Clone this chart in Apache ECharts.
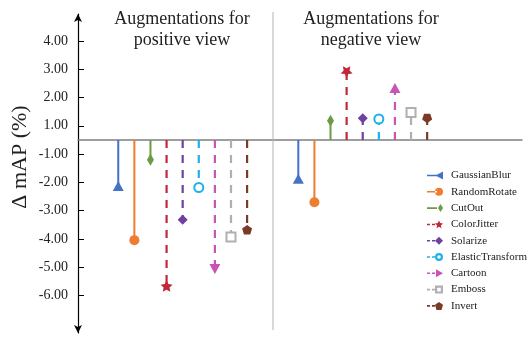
<!DOCTYPE html>
<html>
<head>
<meta charset="utf-8">
<script src="https://cdn.jsdelivr.net/npm/echarts@6/dist/echarts.min.js"></script>
<style>html,body{margin:0;padding:0;background:#fff;}#c{width:531px;height:337px;}</style>
</head>
<body>
<div id="c"></div>
<script>
// ---- data ----
const categories = ['GaussianBlur','RandomRotate','CutOut','ColorJitter','Solarize','ElasticTransform','Cartoon','Emboss','Invert'];
const positiveView = [-2.13, -4.04, -1.20, -5.66, -3.32, -2.18, -5.06, -3.93, -3.67];
const negativeView = [-1.87, -2.70, 1.18, 2.90, 1.27, 1.24, 2.34, 1.47, 1.26];
const yTickLabels = [4, 3, 2, 1, -1, -2, -3, -4, -5, -6];
const groupTitles = ['Augmentations for\npositive view', 'Augmentations for\nnegative view'];
const yAxisTitle = 'Δ mAP (%)';

// ---- styles ----
const FONT = 'Liberation Serif';
const colors = ['#4472C4','#ED7D31','#6A9C45','#C3283A','#7040A0','#1CB2EA','#C655B6','#B0B0B4','#7A3B26'];
const dashed = [false,false,false,true,true,true,true,true,true];
const star = 'path://M0,-10 L2.9,-4 L9.5,-3.1 L4.7,1.5 L5.9,8.1 L0,5 L-5.9,8.1 L-4.7,1.5 L-9.5,-3.1 L-2.9,-4Z';
const pentagon = 'path://M0,-10 L9.5,-3.1 L5.9,8.1 L-5.9,8.1 L-9.5,-3.1Z';
const narrowDiamond = 'path://M0,-10 L5,0 L0,10 L-5,0Z';
const symbols = ['triangle','circle',narrowDiamond,star,'diamond','emptyCircle','triangle','emptyRect',pentagon];
const symbolSizes = [[11,10],10,[7,12],[12,11.5],[10,10],9,[11,10],9,[10,9.5]];
const hollow = [false,false,false,false,false,true,false,true,false];
// rotation at negative end / positive end
const rotNeg = [0,0,0,0,0,0,180,0,0];
const rotPos = [180,0,0,180,0,0,0,0,180];
const groupOffset = [0, 11.18];

// legend icons: line (solid or dashed) with the marker at the right end, in a 16x8 box
const circ = (cx, cy, r, rev) => rev
  ? `M${cx - r},${cy} A${r},${r} 0 1,1 ${cx + r},${cy} A${r},${r} 0 1,1 ${cx - r},${cy}Z`
  : `M${cx - r},${cy} A${r},${r} 0 1,0 ${cx + r},${cy} A${r},${r} 0 1,0 ${cx - r},${cy}Z`;
const legendMarks = [
  'M8.5,4 L16,0 L16,8Z',
  circ(12, 4, 4, false),
  'M13.5,0 L16,4 L13.5,8 L11,4Z',
  'M12,0 L13.2,2.6 L16,2.9 L13.9,4.9 L14.5,7.8 L12,6.3 L9.5,7.8 L10.1,4.9 L8,2.9 L10.8,2.6Z',
  'M12,0 L16,4 L12,8 L8,4Z',
  circ(12, 4, 4, false) + ' ' + circ(12, 4, 1.8, true),
  'M9,0 L16,4 L9,8Z',
  'M8,0 L16,0 L16,8 L8,8Z M10.2,2.2 L10.2,5.8 L13.8,5.8 L13.8,2.2Z',
  'M12,0 L16,2.9 L14.5,8 L9.5,8 L8,2.9Z'
];
const legendIcons = legendMarks.map((m, i) => {
  const line = dashed[i] ? 'M0,3.2 L3,3.2 L3,4.8 L0,4.8Z M5,3.2 L8,3.2 L8,4.8 L5,4.8Z' : 'M0,3.2 L10,3.2 L10,4.8 L0,4.8Z';
  return 'path://' + line + ' ' + m;
});

// broken-scale mapping: the axis has no 0.00 label, 1.00 and -1.00 sit half a step from zero
function toAxis(v){ return v >= 1 ? v - 0.5 : (v <= -1 ? v + 0.5 : v * 0.5); }
const tickValues = yTickLabels.map(toAxis);

const series = categories.map((name, i) => {
  const data = [];
  [positiveView[i], negativeView[i]].forEach((v, g) => {
    const x = i + groupOffset[g];
    if (g > 0) data.push('-');
    data.push({ value: [x, 0], symbol: 'none' });
    data.push({ value: [x, toAxis(v)], symbolRotate: v < 0 ? rotNeg[i] : rotPos[i] });
  });
  return {
    name, type: 'line', data,
    connectNulls: false,
    symbol: symbols[i], symbolSize: symbolSizes[i], symbolKeepAspect: false,
    showAllSymbol: true,
    lineStyle: { color: colors[i], width: dashed[i] ? 2.2 : 2, type: dashed[i] ? [8, 7] : 'solid' },
    itemStyle: { color: colors[i], borderColor: colors[i], borderWidth: hollow[i] ? 2.5 : 0 },
    emphasis: { disabled: true },
    z: 3
  };
});

const chart = echarts.init(document.getElementById('c'), null, { renderer: 'canvas' });
chart.setOption({
  animation: false,
  backgroundColor: '#fff',
  grid: { left: 78, right: 9, top: 14, bottom: 4 },
  xAxis: {
    type: 'value', min: -2.5, max: 25.07,
    axisLine: { onZero: true, lineStyle: { color: '#7f7f7f', width: 1.5 } },
    axisTick: { show: false }, axisLabel: { show: false }, splitLine: { show: false }
  },
  yAxis: {
    type: 'value', min: -6.82, max: 4.45,
    axisLine: { show: true, onZero: false, symbol: ['arrow', 'arrow'], symbolSize: [6, 8], lineStyle: { color: '#000', width: 1.2 } },
    axisTick: { show: true, inside: true, length: 6, customValues: tickValues, lineStyle: { color: '#000' } },
    axisLabel: {
      customValues: tickValues, margin: 10, fontFamily: FONT, fontSize: 14, color: '#222',
      formatter: (val) => {
        const k = tickValues.findIndex(t => Math.abs(t - val) < 1e-6);
        return k >= 0 ? yTickLabels[k].toFixed(2) : '';
      }
    },
    splitLine: { show: false }
  },
  legend: {
    orient: 'vertical', left: 422, top: 165, itemWidth: 16, itemHeight: 8, itemGap: 5.3,
    itemStyle: { borderWidth: 0 },
    textStyle: { fontFamily: FONT, fontSize: 11, color: '#222', padding: [0, 0, 0, 3] },
    data: categories.map((name, i) => ({ name, icon: legendIcons[i] }))
  },
  graphic: [
    { type: 'line', shape: { x1: 273, y1: 12, x2: 273, y2: 330 }, style: { stroke: '#b3b3b3', lineWidth: 1 }, z: 1 },
    { type: 'text', x: 182, y: 30, style: { text: groupTitles[0], font: '18px "Liberation Serif"', fill: '#222', align: 'center', verticalAlign: 'middle', lineHeight: 21 } },
    { type: 'text', x: 371, y: 30, style: { text: groupTitles[1], font: '18px "Liberation Serif"', fill: '#222', align: 'center', verticalAlign: 'middle', lineHeight: 21 } },
    { type: 'text', x: 20, y: 157, rotation: Math.PI / 2, style: { text: yAxisTitle, font: '22px "Liberation Serif"', fill: '#222', align: 'center', verticalAlign: 'middle' } }
  ],
  series
});
</script>
</body>
</html>
